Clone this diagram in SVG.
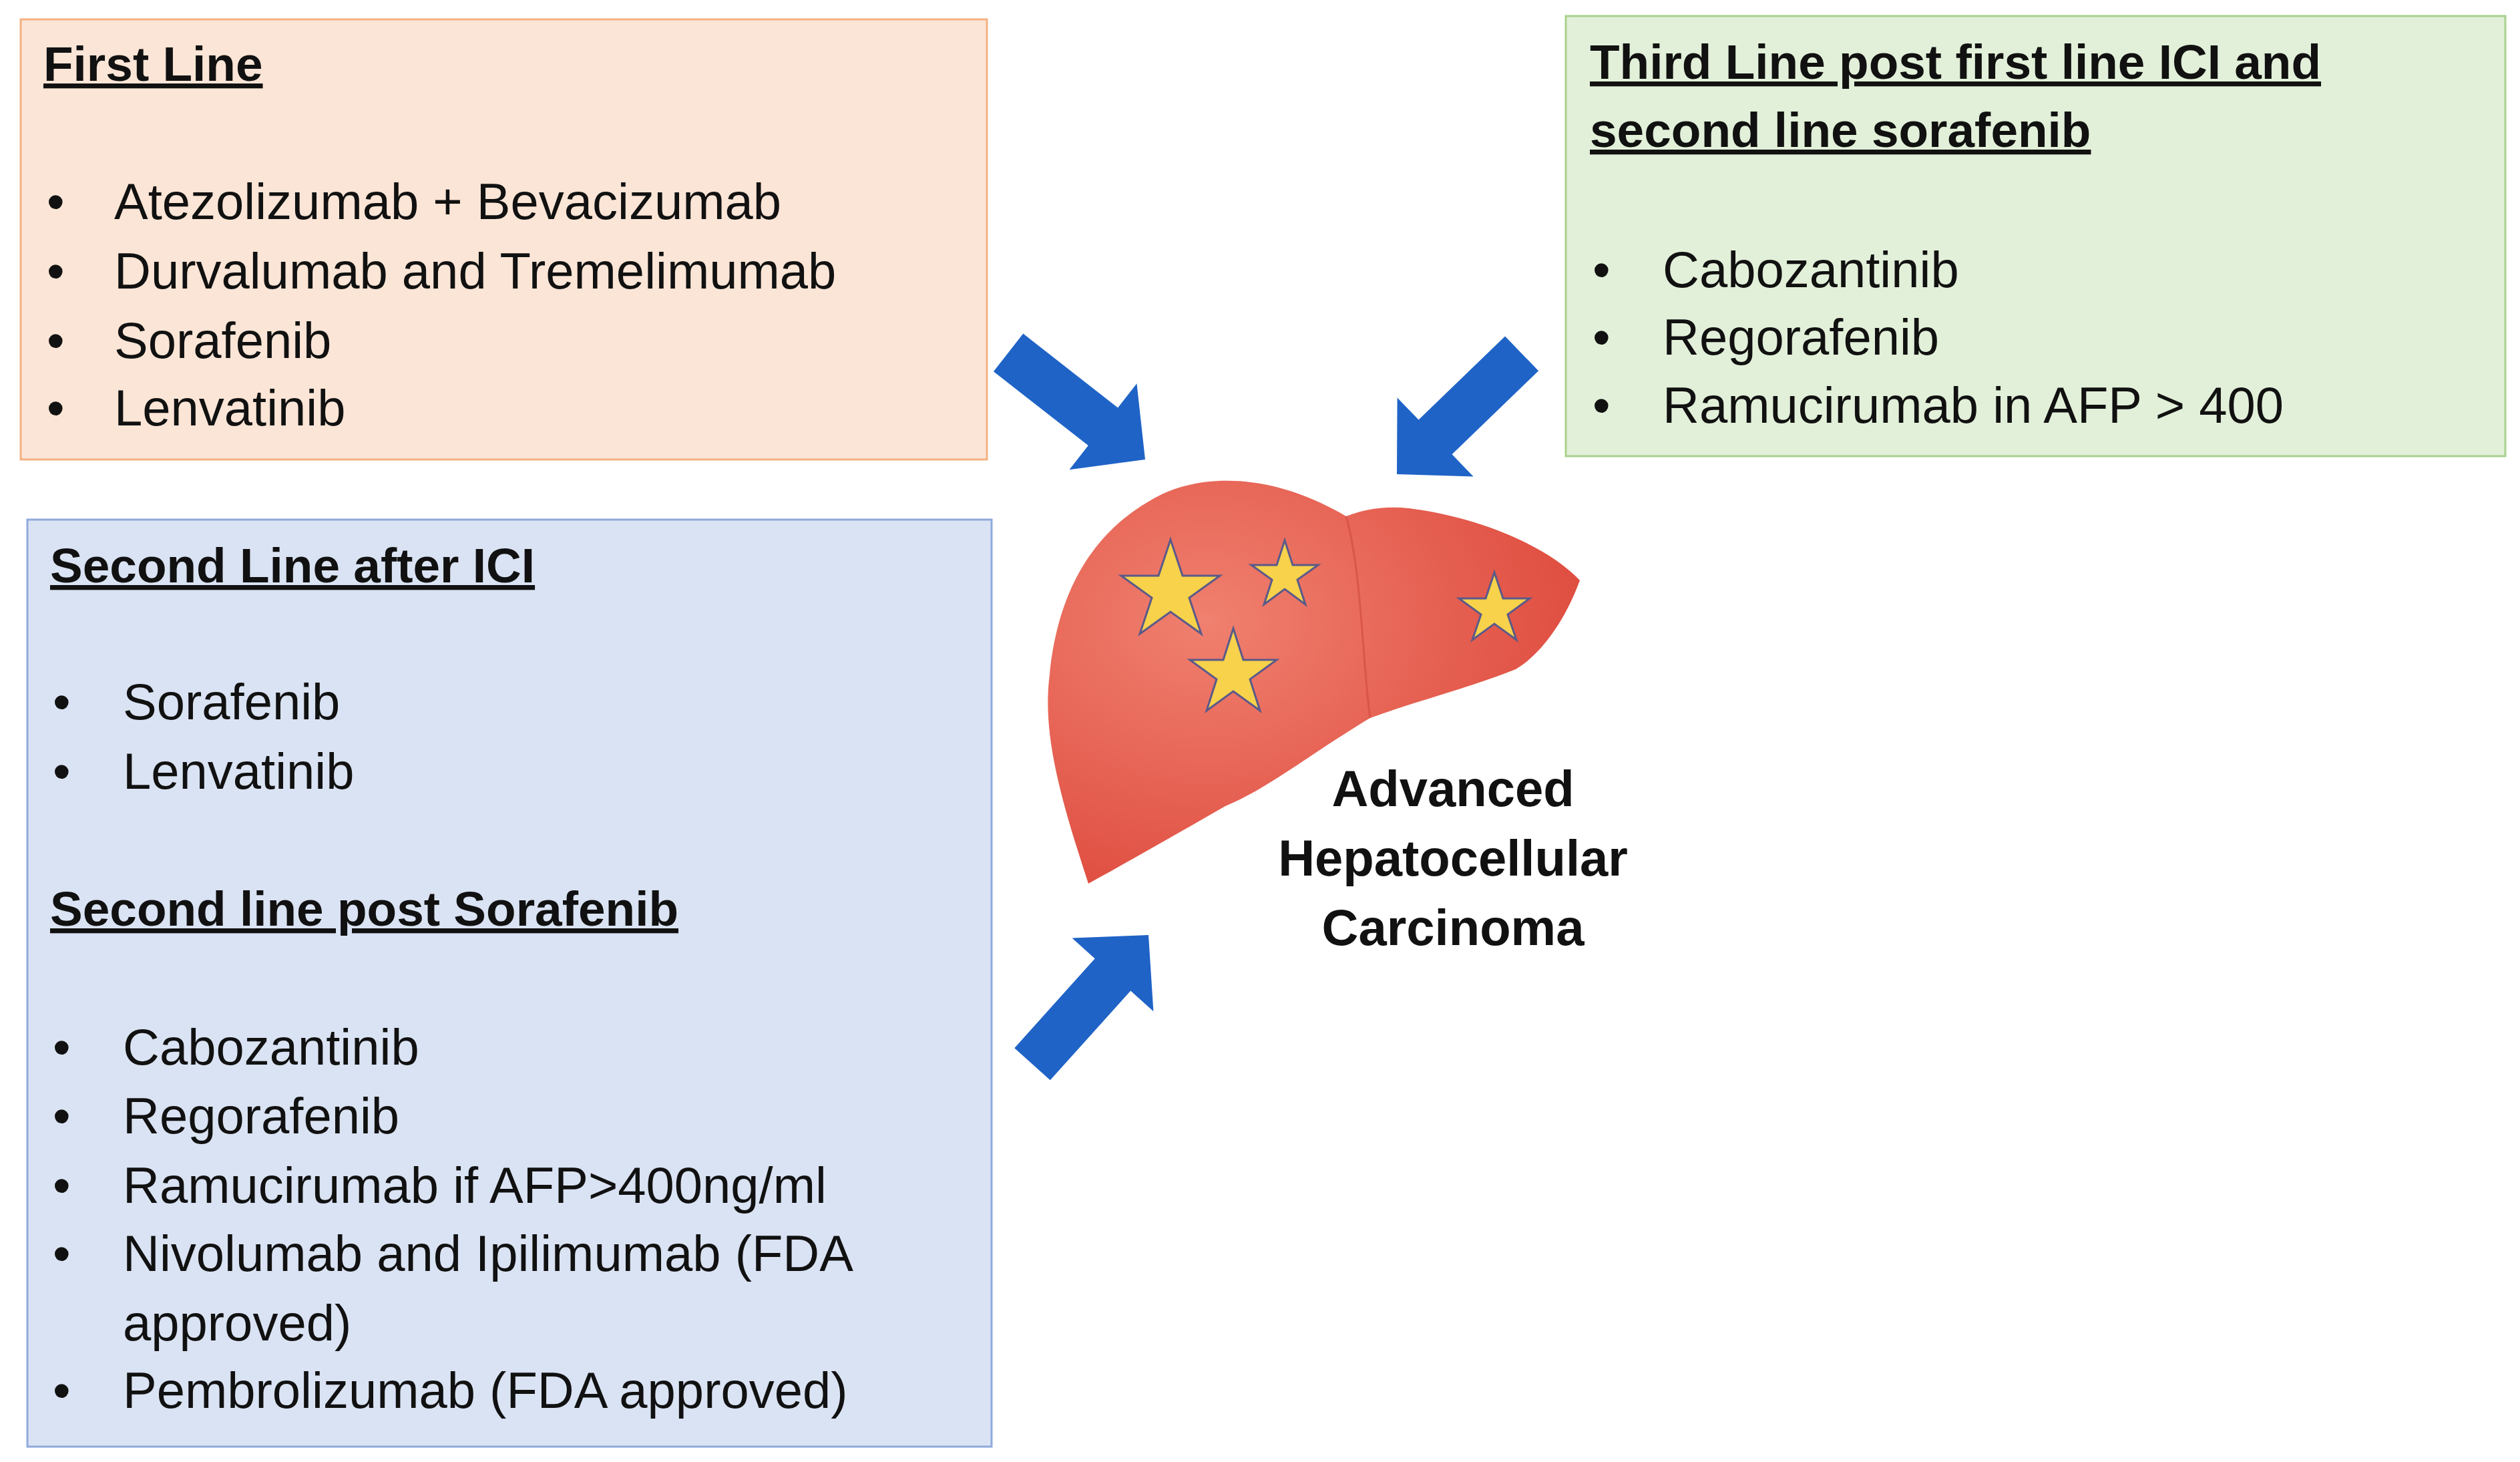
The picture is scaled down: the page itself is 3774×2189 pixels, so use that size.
<svg xmlns="http://www.w3.org/2000/svg" width="3774" height="2189" viewBox="0 0 3774 2189">
<style>
.t{font-family:"Liberation Sans",Arial,sans-serif;font-size:76px;fill:#111}
.h{font-family:"Liberation Sans",Arial,sans-serif;font-size:73px;font-weight:bold;fill:#111;text-decoration:underline}
.c{font-family:"Liberation Sans",Arial,sans-serif;font-size:76px;font-weight:bold;fill:#111;text-anchor:middle}
.arr{fill:#1F63C6}
.star{fill:#F7D24A;stroke:#5A5A8A;stroke-width:3}
</style>
<defs>
<radialGradient id="lg" cx="0.3" cy="0.35" r="0.75">
<stop offset="0" stop-color="#F0806F"/><stop offset="1" stop-color="#DE4B3E"/>
</radialGradient>
<polygon id="a" points="-260,-36 -80,-36 -80,-82 0,0 -80,82 -80,36 -260,36"/>
</defs>
<rect width="3774" height="2189" fill="#fff"/>
<g id="first">
<rect x="31" y="29" width="1447" height="659" fill="#FBE5D6" stroke="#F4B183" stroke-width="3"/>
<text class="h" x="65" y="121">First Line</text>
<g class="t"><text x="70" y="328">•</text><text x="171" y="328">Atezolizumab + Bevacizumab</text>
<text x="70" y="432">•</text><text x="171" y="432">Durvalumab and Tremelimumab</text>
<text x="70" y="536">•</text><text x="171" y="536">Sorafenib</text>
<text x="70" y="637">•</text><text x="171" y="637">Lenvatinib</text></g>
</g>
<g id="third">
<rect x="2345" y="24" width="1407" height="659" fill="#E2F0D9" stroke="#A9D18E" stroke-width="3"/>
<text class="h" x="2381" y="118">Third Line post first line ICI and</text>
<text class="h" x="2381" y="220">second line sorafenib</text>
<g class="t"><text x="2385" y="430">•</text><text x="2490" y="430">Cabozantinib</text>
<text x="2385" y="531">•</text><text x="2490" y="531">Regorafenib</text>
<text x="2385" y="633">•</text><text x="2490" y="633">Ramucirumab in AFP &gt; 400</text></g>
</g>
<g id="second">
<rect x="41" y="778" width="1444" height="1388" fill="#DAE3F3" stroke="#8FAADC" stroke-width="3"/>
<text class="h" x="75" y="872">Second Line after ICI</text>
<g class="t"><text x="79" y="1077">•</text><text x="184" y="1077">Sorafenib</text>
<text x="79" y="1181">•</text><text x="184" y="1181">Lenvatinib</text></g>
<text class="h" x="75" y="1386">Second line post Sorafenib</text>
<g class="t"><text x="79" y="1594">•</text><text x="184" y="1594">Cabozantinib</text>
<text x="79" y="1697">•</text><text x="184" y="1697">Regorafenib</text>
<text x="79" y="1801">•</text><text x="184" y="1801">Ramucirumab if AFP&gt;400ng/ml</text>
<text x="79" y="1903">•</text><text x="184" y="1903">Nivolumab and Ipilimumab (FDA</text>
<text x="184" y="2007">approved)</text>
<text x="79" y="2108">•</text><text x="184" y="2108">Pembrolizumab (FDA approved)</text></g>
</g>
<g id="liver">
<path d="M1630,1323 C1590,1200 1560,1100 1572,1010 C1585,880 1640,790 1740,740 C1800,712 1900,705 2016,773 C2050,760 2080,758 2110,761 C2220,775 2320,820 2366,869 C2340,940 2300,985 2270,1002 C2200,1030 2120,1050 2052,1075 C1960,1130 1900,1180 1835,1207 C1760,1250 1690,1290 1630,1323 Z" fill="url(#lg)"/>
<path d="M2016,773 C2040,860 2040,990 2052,1075" fill="none" stroke="#C9433A" stroke-width="3" opacity="0.5"/>
<polygon class="star" points="1753,808 1771,862 1827,862 1781,895 1799,949 1753,916 1707,949 1725,895 1679,862 1735,862"/>
<polygon class="star" points="1924,809 1936,846 1974,846 1943,868 1955,905 1924,882 1893,905 1905,868 1874,846 1912,846"/>
<polygon class="star" points="1847,941 1862,988 1912,988 1872,1017 1887,1064 1847,1035 1807,1064 1822,1017 1782,988 1832,988"/>
<polygon class="star" points="2238,857 2251,896 2291,896 2258,920 2271,958 2238,934 2205,958 2218,920 2185,896 2225,896"/>
<text class="c" x="2176" y="1207">Advanced</text>
<text class="c" x="2176" y="1311">Hepatocellular</text>
<text class="c" x="2176" y="1415">Carcinoma</text>
</g>
<g id="connectors">
<use href="#a" class="arr" transform="translate(1715,688) rotate(38)"/>
<use href="#a" class="arr" transform="translate(2092,710) rotate(136)"/>
<use href="#a" class="arr" transform="translate(1720,1400) rotate(-48)"/>
</g>
</svg>
